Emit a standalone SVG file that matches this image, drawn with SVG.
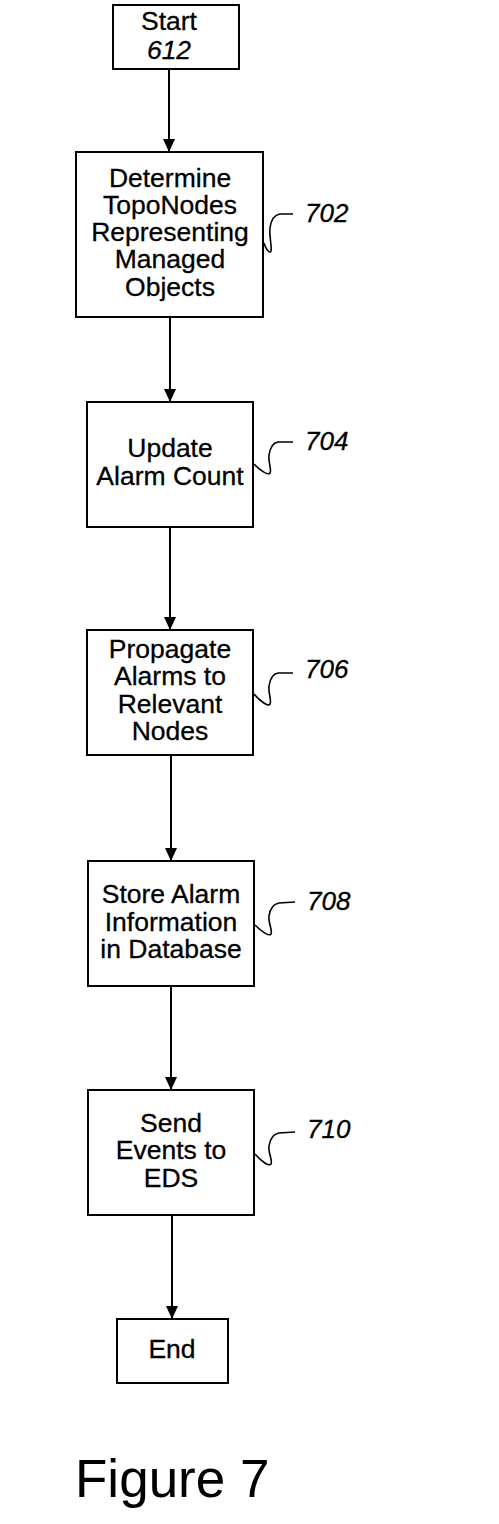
<svg xmlns="http://www.w3.org/2000/svg" width="499" height="1524" viewBox="0 0 499 1524">
<style>
.box{fill:#fff;stroke:#000;stroke-width:2}
.t{font-family:"Liberation Sans",Arial,sans-serif;font-size:26.5px;text-anchor:middle;fill:#000;stroke:#000;stroke-width:0.3}
.lbl{font-family:"Liberation Sans",Arial,sans-serif;font-size:26px;font-style:italic;fill:#000;stroke:#000;stroke-width:0.3}
.sq{fill:none;stroke:#000;stroke-width:1.6}
.c{fill:none;stroke:#000;stroke-width:2}
</style>
<defs>
<marker id="arr" markerUnits="userSpaceOnUse" markerWidth="13" markerHeight="12" refX="13" refY="6" orient="auto" viewBox="0 0 13 12">
<path d="M0 0 L13 6 L0 12 Z" fill="#000"/>
</marker>
</defs>
<rect width="499" height="1524" fill="#fff"/>
<g id="connectors">
<line class="c" x1="169" y1="69" x2="169" y2="152" marker-end="url(#arr)"/>
<line class="c" x1="170" y1="317" x2="170" y2="402" marker-end="url(#arr)"/>
<line class="c" x1="170" y1="527" x2="170" y2="630" marker-end="url(#arr)"/>
<line class="c" x1="171" y1="755" x2="171" y2="861" marker-end="url(#arr)"/>
<line class="c" x1="171" y1="986" x2="171" y2="1090" marker-end="url(#arr)"/>
<line class="c" x1="172" y1="1215" x2="172" y2="1319" marker-end="url(#arr)"/>
</g>
<g id="start">
<rect class="box" x="113" y="5" width="126" height="64" stroke-width="2.6"/>
<text class="t" x="169" y="30">Start</text>
<text class="t" x="169" y="59" font-style="italic">612</text>
</g>
<g id="n702">
<rect class="box" x="76" y="152" width="187" height="165"/>
<text class="t" x="170" y="187">Determine</text>
<text class="t" x="170" y="214">TopoNodes</text>
<text class="t" x="170" y="241">Representing</text>
<text class="t" x="170" y="268">Managed</text>
<text class="t" x="170" y="296">Objects</text>
<path class="sq" d="M293 214 L280 214 C274 215 271 220 270 228 C269 236 272 246 271 251 C270 254 266 250 264 243"/>
<text class="lbl" x="305" y="222">702</text>
</g>
<g id="n704">
<rect class="box" x="87" y="402" width="166" height="125"/>
<text class="t" x="170" y="457">Update</text>
<text class="t" x="170" y="485">Alarm Count</text>
<path class="sq" d="M293 442 L278 442 C272 443 270 448 269 455 C268 462 272 470 270 473 C268 476 260 470 254 464"/>
<text class="lbl" x="305" y="450">704</text>
</g>
<g id="n706">
<rect class="box" x="87" y="630" width="166" height="125"/>
<text class="t" x="170" y="658">Propagate</text>
<text class="t" x="170" y="685">Alarms to</text>
<text class="t" x="170" y="713">Relevant</text>
<text class="t" x="170" y="740">Nodes</text>
<path class="sq" d="M293 673 L278 673 C272 674 270 679 269 686 C268 693 272 701 270 704 C268 707 260 701 254 694"/>
<text class="lbl" x="305" y="678">706</text>
</g>
<g id="n708">
<rect class="box" x="88" y="861" width="166" height="125"/>
<text class="t" x="171" y="903">Store Alarm</text>
<text class="t" x="171" y="931">Information</text>
<text class="t" x="171" y="958">in Database</text>
<path class="sq" d="M295 902 L279 903 C273 904 270 909 269 916 C268 923 273 931 271 934 C269 937 261 931 255 925"/>
<text class="lbl" x="307" y="910">708</text>
</g>
<g id="n710">
<rect class="box" x="88" y="1090" width="166" height="125"/>
<text class="t" x="171" y="1132">Send</text>
<text class="t" x="171" y="1159">Events to</text>
<text class="t" x="171" y="1187">EDS</text>
<path class="sq" d="M295 1132 L279 1133 C273 1134 270 1139 269 1146 C268 1153 273 1161 271 1164 C269 1167 261 1161 255 1154"/>
<text class="lbl" x="307" y="1138">710</text>
</g>
<g id="end">
<rect class="box" x="117" y="1319" width="111" height="64"/>
<text class="t" x="172" y="1358">End</text>
</g>
<text x="75" y="1497" font-family="Liberation Sans, Arial, sans-serif" font-size="53" fill="#000">Figure 7</text>
</svg>
